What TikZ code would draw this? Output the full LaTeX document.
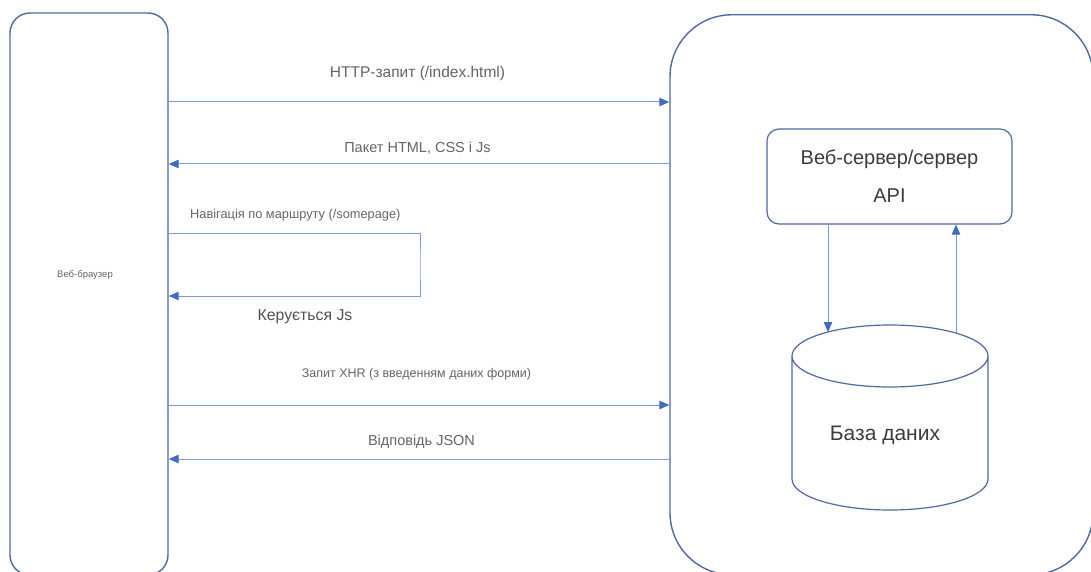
\documentclass[tikz,border=0pt]{standalone}
\usepackage{fontspec}
\setmainfont{Liberation Sans}
\usetikzlibrary{arrows.meta, positioning, calc}

\definecolor{boxblue}{RGB}{78,104,164}
\definecolor{lineblue}{RGB}{125,155,210}
\definecolor{tipblue}{RGB}{62,108,196}
\definecolor{msggray}{RGB}{100,100,100}
\definecolor{textgray}{RGB}{60,60,60}

\begin{document}
\begin{tikzpicture}[x=1pt, y=1pt, >={Triangle[length=10pt,width=8.5pt,color=tipblue]}]
  % Styles
  \tikzstyle{party} = [rectangle, draw=boxblue, line width=1.4pt, inner sep=0pt]
  \tikzstyle{message} = [draw=lineblue, line width=1pt, ->]
  \tikzstyle{msgtext} = [text=msggray, inner sep=0pt]
  \tikzstyle{dbline} = [draw=boxblue, line width=1.2pt]

  \useasboundingbox (0,0) rectangle (1091,-572);
  \clip (0,0) rectangle (1091,-572);

  % Parties
  \node[party, rounded corners=20pt, minimum width=158pt, minimum height=562pt] (browser) at (89,-294) {};
  \node[msgtext, font=\fontsize{9.5}{11}\selectfont] (browsertext) at (85,-275) {Веб-браузер};
  \node[party, rounded corners=62pt, minimum width=423pt, minimum height=560pt] (server) at (881.5,-294.75) {};

  % Inside the server
  \node[party, line width=1.2pt, rounded corners=12pt, minimum width=245pt, minimum height=95pt,
        align=center, text=textgray, font=\fontsize{20}{38}\selectfont] (websrv) at (889.5,-176.5) {Веб-сервер/сервер\\API};

  % Database (cylinder)
  \draw[dbline] (792,-356) arc[start angle=180, end angle=0, x radius=98pt, y radius=31pt]
    arc[start angle=0, end angle=-180, x radius=98pt, y radius=31pt]
    -- (792,-479) arc[start angle=180, end angle=360, x radius=98pt, y radius=31pt] -- (988,-356);
  \node[text=textgray, font=\fontsize{21}{25}\selectfont, inner sep=0pt] (db) at (885,-435) {База даних};
  \coordinate (dbin) at (828,-332);
  \coordinate (dbout) at (956,-333);

  \draw[message] (websrv.south -| dbin) -- (dbin);
  \draw[message] (dbout) -- (websrv.south -| dbout);

  % 1. Page load
  \draw[message] (browser.east |- 0,-102) -- (server.west |- 0,-102);
  \node[msgtext, font=\fontsize{15.5}{18}\selectfont] (httpreq) at (417.5,-73) {HTTP-запит (/index.html)};
  \draw[message] (server.west |- 0,-164) -- (browser.east |- 0,-164);
  \node[msgtext, font=\fontsize{14.5}{17}\selectfont] (bundle) at (417.5,-148) {Пакет HTML, CSS і Js};

  % 2. Client-side routing
  \coordinate (jsturn) at (420,-264.5);
  \draw[message] (browser.east |- 0,-233) -| (jsturn) |- (browser.east |- 0,-296);
  \node[msgtext, anchor=west, font=\fontsize{12.8}{15}\selectfont] (routing) at (190,-215) {Навігація по маршруту (/somepage)};
  \node[msgtext, text=textgray!90, font=\fontsize{15.8}{19}\selectfont] (jsctl) at (305,-317) {Керується Js};

  % 3. XHR request
  \draw[message] (browser.east |- 0,-405) -- (server.west |- 0,-405);
  \node[msgtext, font=\fontsize{12.5}{15}\selectfont] (xhrreq) at (416.5,-374) {Запит XHR (з введенням даних форми)};
  \draw[message] (server.west |- 0,-459) -- (browser.east |- 0,-459);
  \node[msgtext, font=\fontsize{14.5}{17}\selectfont] (jsonresp) at (421.5,-442) {Відповідь JSON};

\end{tikzpicture}
\end{document}
